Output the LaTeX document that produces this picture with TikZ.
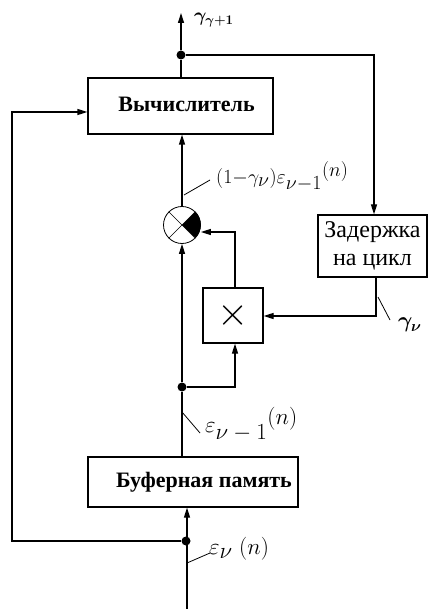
\RequirePackage{fix-cm}
\documentclass[tikz,border=0pt]{standalone}
\usepackage{amsmath}
\usepackage{fontspec}
\setmainfont{Liberation Serif}
\usetikzlibrary{arrows.meta,calc}
\tikzset{
  wire/.style={line width=1.2pt},
  arr/.style={wire,-{Triangle[length=10pt,width=6pt]}},
  blk/.style={draw,line width=1.2pt,inner sep=0pt,font=\fontsize{22}{26}\selectfont},
  dotnode/.style={circle,fill,inner sep=0pt,minimum size=9pt},
  tick/.style={line width=0.8pt},
  lbl/.style={anchor=west,inner sep=0pt},
}
\newcommand{\ts}{\textstyle}
\begin{document}
\begin{tikzpicture}[x=1pt,y=-1pt]
\useasboundingbox (0,0) rectangle (428,609);
% blocks
\node[blk,minimum width=185pt,minimum height=56pt] (calc) at (180.5,106) {\hspace*{12pt}\raisebox{3pt}{\textbf{Вычислитель}}};
\node[blk,minimum width=210pt,minimum height=50pt] (buf) at (193,482) {\hspace*{22pt}\textbf{Буферная память}};
\node[blk,minimum width=109pt,minimum height=62pt,align=center,font=\fontsize{24}{28}\selectfont] (del) at (372.5,246) {Задержка\\на цикл};
\node[blk,minimum width=60pt,minimum height=55pt] (mul) at (233,315.5) {\fontsize{40}{40}\selectfont$\times$};
% summing circle
\node[draw,circle,line width=0.8pt,minimum size=37pt,inner sep=0pt] (sum) at (182,225) {};
\fill (sum.center) -- (sum.north east) arc[start angle=45,end angle=-45,radius=18.5pt] -- cycle;
\draw[line width=0.6pt] (sum.north west) -- (sum.south east) (sum.north east) -- (sum.south west);
% dots and coordinates
\node[dotnode] (d1) at (181,55) {};
\node[dotnode] (d2) at (182,387) {};
\node[dotnode] (d3) at (186,541) {};
\coordinate (out) at (181,13);
\coordinate (tr) at (374,55);
\coordinate (fbl) at (12,541);
\coordinate (fbt) at (12,112);
\coordinate (mulin) at (235,232);
\coordinate (mulb) at (235,387);
\coordinate (dlb) at (376,316);
\coordinate (inp) at (187,609);
% connectors
\draw[arr] (d1) -- (out);
\draw[wire] (calc.north -| d1) -- (d1);
\draw[arr] (d1) -- (tr) -- (del.north -| tr);
\draw[arr] (sum.north) -- (calc.south -| sum);
\draw[arr] (mul.north -| mulin) -- (mulin) -- (mulin -| sum.east);
\draw[arr] (d2) -- (sum.south);
\draw[arr] (d2) -- (mulb) -- (mul.south -| mulb);
\draw[arr] (del.south -| dlb) -- (dlb) -- (dlb -| mul.east);
\draw[wire] (buf.north -| d2) -- (d2);
\draw[arr] (inp) -- (buf.south -| inp);
\draw[arr] (d3) -- (fbl) -- (fbt) -- (fbt -| calc.west);
% labels
\node[lbl,font=\fontsize{19}{22}\selectfont] (gout) at (194,20) {$\boldsymbol{\gamma_{\gamma+1}}$};
\coordinate (t1a) at (184,195); \coordinate (t1b) at (210,180);
\draw[tick] (t1a) -- (t1b);
\node[lbl,font=\fontsize{20}{24}\selectfont] (l1) at (216,176) {$(1{-}\gamma_{\ts\nu})\varepsilon_{\ts\nu{-}1}{}^{\ts(n)}$};
\coordinate (t2a) at (378,297); \coordinate (t2b) at (390,320);
\draw[tick] (t2a) -- (t2b);
\node[lbl,font=\fontsize{22}{26}\selectfont] (l2) at (398,325) {$\boldsymbol{\gamma_{\nu}}$};
\coordinate (t3a) at (182,412); \coordinate (t3b) at (200,433);
\draw[tick] (t3a) -- (t3b);
\node[lbl,font=\fontsize{23}{26}\selectfont] (l3) at (205,424) {$\varepsilon_{\ts\nu-1}{}^{\ts(n)}$};
\coordinate (t4a) at (187,563); \coordinate (t4b) at (210,553);
\draw[tick] (t4a) -- (t4b);
\node[lbl,font=\fontsize{23}{26}\selectfont] (l4) at (209,549) {$\varepsilon_{\ts\nu}\;(n)$};
\end{tikzpicture}
\end{document}
